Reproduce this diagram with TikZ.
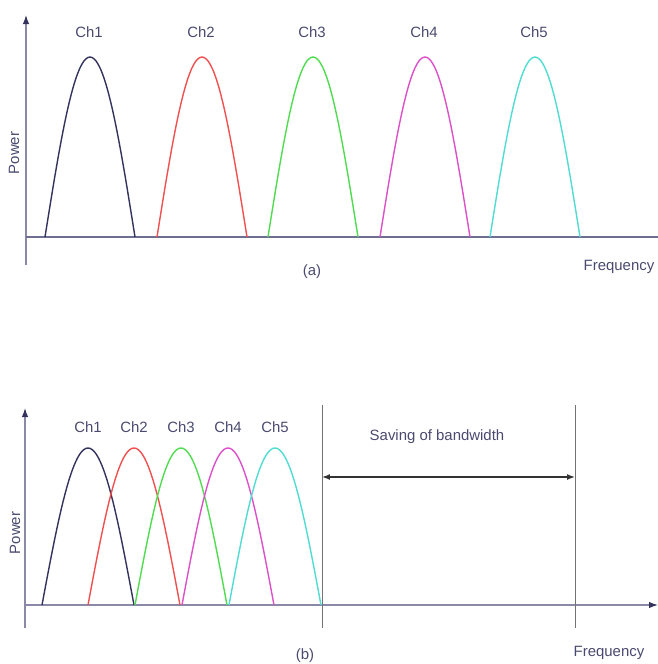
\documentclass[tikz,border=0pt]{standalone}
\usepackage{fontspec}
\setmainfont{Liberation Sans}
\usepackage{tikz}
\usetikzlibrary{positioning,arrows.meta,calc}
\usepackage{xcolor}

\definecolor{axisgray}{HTML}{8A8AA8}
\definecolor{basegray}{HTML}{6E6E90}
\definecolor{txtblue}{HTML}{4A4A70}
\definecolor{chone}{HTML}{33335E}
\definecolor{chtwo}{HTML}{F05050}
\definecolor{chthree}{HTML}{50DC50}
\definecolor{chfour}{HTML}{DC50C8}
\definecolor{chfive}{HTML}{50DCD2}

\begin{document}
\begin{tikzpicture}[
        x=0.02cm, y=-0.02cm,
        font=\fontsize{8.5}{10}\selectfont,
        lbl/.style={
            text=txtblue,
            inner sep=1pt
        },
        base/.style={
            draw=basegray,
            line width=1.6pt
        },
        arr/.style={
            -{Latex[length=1.8mm,width=1.3mm,color=chone]},
            draw=axisgray,
            line width=0.7pt
        },
        span/.style={
            {Latex[length=1.6mm,width=1.2mm]}-{Latex[length=1.6mm,width=1.2mm]},
            draw=black!80,
            line width=0.8pt
        },
        mark line/.style={
            draw=black!55,
            line width=0.5pt
        },
        curve/.style={
            line width=0.8pt
        }
    ]
    
    \useasboundingbox (0,0) rectangle (658,664);
    
    % =========================
    % Panel (a)
    % =========================
    \coordinate (Ao) at (26,237);
    \coordinate (Atop) at (26,15);
    \coordinate (Abot) at (26,265);
    \coordinate (Aend) at (658,237);
    
    \draw[arr] (Abot) -- (Atop);
    \draw[base] (Ao) -- (Aend);
    
    \foreach \s/\cl [count=\i] in {45/chone,157/chtwo,268/chthree,380/chfour,490/chfive} {
        \draw[curve, \cl] plot[domain=0:1, samples=45] ({\s+90*\x}, {237-180*sin(180*\x)});
        \node[lbl] (Ach\i) at ({\s+44},32) {Ch\i};
    }
    
    \node[lbl, rotate=90] (Apow) at (14,153) {Power};
    \node[lbl] (Acap) at (312,272) {(a)};
    \node[lbl] (Afreq) at (619,267) {Frequency};
    
    % =========================
    % Panel (b)
    % =========================
    \coordinate (Bo) at (25,605);
    \coordinate (Btop) at (25,408);
    \coordinate (Bbot) at (25,628);
    \coordinate (Bend) at (658,605);
    
    \draw[arr] (Bbot) -- (Btop);
    \draw[arr] (Bo) -- (Bend);
    
    \foreach \s/\cl [count=\i] in {42/chone,88/chtwo,135/chthree,182/chfour,229/chfive} {
        \draw[curve, \cl] plot[domain=0:1, samples=45] ({\s+92*\x}, {605-157*sin(180*\x)});
        \node[lbl] (Bch\i) at ({\s+46},427) {Ch\i};
    }
    
    \coordinate (Vl) at (322,405);
    \coordinate (Vlb) at (322,628);
    \coordinate (Vr) at (575,405);
    \coordinate (Vrb) at (575,628);
    \draw[mark line] (Vl) -- (Vlb);
    \draw[mark line] (Vr) -- (Vrb);
    
    \coordinate (Sl) at (322,477);
    \coordinate (Sr) at (575,477);
    \draw[span] (Sl) -- (Sr);
    
    \node[lbl] (Bsave) at (437,437) {Saving of bandwidth};
    \node[lbl, rotate=90] (Bpow) at (15,533) {Power};
    \node[lbl] (Bcap) at (305,656) {(b)};
    \node[lbl] (Bfreq) at (609,653) {Frequency};
    
    \end{tikzpicture}
\end{document}
